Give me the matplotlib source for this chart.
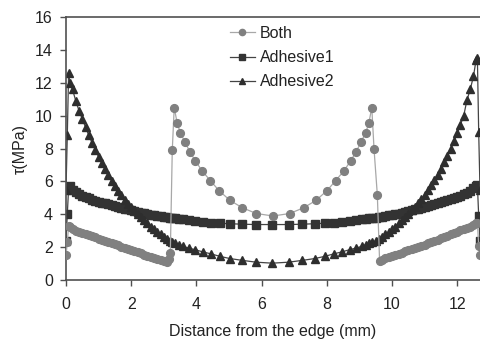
import matplotlib
matplotlib.use("Agg")
import matplotlib.pyplot as plt

plt.rcParams['font.family'] = ['Liberation Sans', 'DejaVu Sans']

# mesh positions (mm) shared by the two adhesive series
x_mm = [0.0, 0.04, 0.08, 0.12, 0.2, 0.3, 0.4, 0.5, 0.6, 0.7, 0.8, 0.9, 1.0, 1.1, 1.2,
        1.3, 1.4, 1.5, 1.6, 1.7, 1.8, 1.9, 2.0, 2.1, 2.2, 2.3, 2.4, 2.5, 2.6, 2.7,
        2.8, 2.9, 3.0, 3.1, 3.2,
        3.26, 3.35, 3.46, 3.59, 3.76, 3.96, 4.19, 4.44, 4.71, 5.03, 5.41, 5.83, 6.33,
        6.83, 7.25, 7.63, 7.95, 8.22, 8.47, 8.7, 8.9, 9.07, 9.2, 9.31, 9.4,
        9.5, 9.6, 9.7, 9.8, 9.9, 10.0, 10.1, 10.2, 10.3, 10.4, 10.5, 10.6, 10.7,
        10.8, 10.9, 11.0, 11.1, 11.2, 11.3, 11.4, 11.5, 11.6, 11.7, 11.8, 11.9,
        12.0, 12.1, 12.2, 12.3, 12.4, 12.5, 12.58, 12.62, 12.66, 12.7]

adhesive1 = [2.4, 4.0, 5.6, 5.75, 5.5, 5.35, 5.22, 5.12, 5.04, 4.97, 4.9, 4.84, 4.78, 4.72, 4.66,
             4.6, 4.55, 4.5, 4.45, 4.4, 4.35, 4.3, 4.25, 4.2, 4.15, 4.1, 4.06, 4.02, 3.98, 3.94,
             3.9, 3.87, 3.84, 3.81, 3.78,
             3.77, 3.75, 3.72, 3.69, 3.65, 3.6, 3.55, 3.5, 3.46, 3.43, 3.4, 3.38, 3.38,
             3.38, 3.4, 3.43, 3.46, 3.5, 3.55, 3.6, 3.65, 3.69, 3.72, 3.75, 3.77,
             3.8, 3.83, 3.86, 3.89, 3.93, 3.97, 4.01, 4.05, 4.1, 4.15, 4.2, 4.25, 4.3,
             4.35, 4.4, 4.45, 4.5, 4.56, 4.62, 4.68, 4.74, 4.8, 4.86, 4.93, 5.0,
             5.07, 5.14, 5.22, 5.32, 5.45, 5.62, 5.75, 5.8, 3.9, 2.4]

adhesive2 = [5.5, 8.8, 12.6, 12.0, 11.6, 10.9, 10.3, 9.8, 9.3, 8.8, 8.35, 7.9, 7.5, 7.1, 6.75,
             6.4, 6.05, 5.75, 5.45, 5.15, 4.9, 4.65, 4.45, 4.25, 4.05, 3.85, 3.65, 3.45, 3.25, 3.08,
             2.92, 2.78, 2.64, 2.5, 2.36,
             2.32, 2.24, 2.15, 2.05, 1.95, 1.85, 1.72, 1.6, 1.45, 1.31, 1.2, 1.09, 1.03,
             1.09, 1.2, 1.31, 1.45, 1.6, 1.72, 1.85, 1.95, 2.05, 2.15, 2.24, 2.32,
             2.36, 2.5, 2.64, 2.78, 2.92, 3.08, 3.25, 3.45, 3.65, 3.85, 4.05, 4.25, 4.45,
             4.68, 4.92, 5.18, 5.46, 5.76, 6.08, 6.42, 6.78, 7.16, 7.56, 7.98, 8.44,
             8.92, 9.45, 10.0, 10.95, 11.6, 12.4, 13.4, 13.5, 9.0, 5.5]

# "Both" has its own nodes (double nodes at the material changes)
x_both = [0.0, 0.04, 0.08, 0.12, 0.2, 0.3, 0.4, 0.5, 0.6, 0.7, 0.8, 0.9, 1.0, 1.1, 1.2,
          1.3, 1.4, 1.5, 1.6, 1.7, 1.8, 1.9, 2.0, 2.1, 2.2, 2.3, 2.4, 2.5, 2.6, 2.7,
          2.8, 2.9, 3.0, 3.1, 3.15, 3.2, 3.26,
          3.32, 3.41, 3.51, 3.65, 3.8, 3.97, 4.18, 4.43, 4.69, 5.03, 5.41, 5.84, 6.35,
          6.86, 7.29, 7.67, 8.01, 8.27, 8.52, 8.73, 8.9, 9.05, 9.19, 9.29, 9.38,
          9.45, 9.55, 9.62, 9.7, 9.8, 9.9, 10.0, 10.1, 10.2, 10.3, 10.4, 10.5, 10.6,
          10.7, 10.8, 10.9, 11.0, 11.1, 11.2, 11.3, 11.4, 11.5, 11.6, 11.7, 11.8,
          11.9, 12.0, 12.1, 12.2, 12.3, 12.4, 12.5, 12.58, 12.62, 12.66, 12.7]

both = [1.5, 2.3, 3.3, 3.2, 3.08, 3.0, 2.95, 2.88, 2.81, 2.74, 2.67, 2.6, 2.53, 2.46, 2.39,
        2.32, 2.25, 2.18, 2.11, 2.04, 1.97, 1.9, 1.83, 1.76, 1.69, 1.62, 1.55, 1.48, 1.41, 1.34,
        1.27, 1.2, 1.14, 1.1, 1.3, 1.65, 7.9,
        10.5, 9.55, 8.95, 8.4, 7.8, 7.25, 6.63, 6.05, 5.45, 4.85, 4.4, 4.05, 3.9,
        4.05, 4.4, 4.85, 5.45, 6.05, 6.63, 7.25, 7.8, 8.4, 8.95, 9.55, 10.5,
        7.95, 5.2, 1.15, 1.25, 1.32, 1.39, 1.46, 1.53, 1.6, 1.67, 1.74, 1.81, 1.88,
        1.95, 2.02, 2.09, 2.16, 2.23, 2.3, 2.38, 2.46, 2.54, 2.62, 2.7, 2.78,
        2.86, 2.94, 3.02, 3.1, 3.18, 3.26, 3.36, 3.45, 3.5, 2.1, 1.5]

fig = plt.figure(figsize=(4.8, 3.42), dpi=100)
ax = fig.add_axes([0.1375, 0.181, 0.8625, 0.769])

ax.plot(x_mm, adhesive1, color='#444444', lw=0.9, marker='s', ms=5.2,
        mfc='#333333', mec='#333333', label='Adhesive1', zorder=2)
ax.plot(x_mm, adhesive2, color='#444444', lw=0.9, marker='^', ms=6,
        mfc='#2e2e2e', mec='#2e2e2e', label='Adhesive2', zorder=2)
ax.plot(x_both, both, color='#a8a8a8', lw=0.9, marker='o', ms=5.6,
        mfc='#808080', mec='#808080', label='Both', zorder=3)

ax.set_xlim(0, 12.7)
ax.set_ylim(0, 16)
ax.set_xticks(range(0, 13, 2))
ax.set_yticks(range(0, 17, 2))

for s in ['left', 'bottom', 'top']:
    ax.spines[s].set_color('#505050')
    ax.spines[s].set_linewidth(1.2)
ax.spines['right'].set_visible(False)
ax.tick_params(direction='out', length=4.5, width=1, color='#505050',
               labelsize=11.5, labelcolor='#222222')
ax.tick_params(axis='x', pad=8)
ax.tick_params(axis='y', pad=5)

ax.set_xlabel('Distance from the edge (mm)', fontsize=11.5, color='#222222', labelpad=8)
ax.set_ylabel('τ(MPa)', fontsize=11.5, color='#222222', labelpad=5)

h, l = ax.get_legend_handles_labels()
order = [2, 0, 1]
ax.legend([h[i] for i in order], [l[i] for i in order], loc='upper left',
          bbox_to_anchor=(0.455, 0.957), bbox_transform=fig.transFigure,
          frameon=False, fontsize=11.5, handlelength=1.6, handletextpad=0.3,
          labelspacing=0.58, borderpad=0.2, labelcolor='#222222', markerscale=0.8)

fig.savefig('out.png', dpi=100)
